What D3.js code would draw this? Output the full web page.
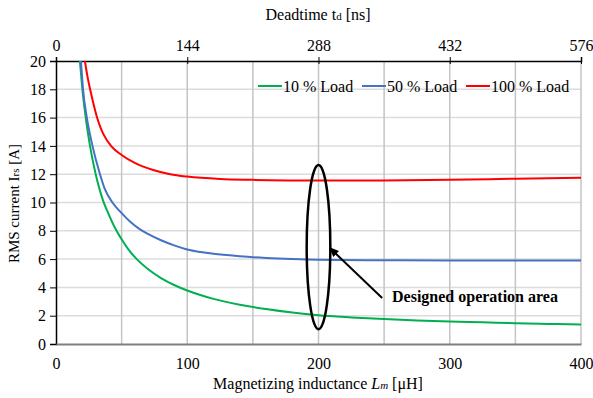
<!DOCTYPE html>
<html>
<head>
<meta charset="utf-8">
<script src="https://cdn.jsdelivr.net/npm/d3@7"></script>
<style>
  body { margin: 0; background: #fff; }
  svg text { font-family: "Liberation Serif", "Times New Roman", serif; fill: #000; }
</style>
</head>
<body>
<svg id="chart" width="593" height="398"></svg>
<script>
// magnetizing inductance Lm [uH] and rms current [A]
var lm10 = [18.2, 20, 22.5, 25.9, 30, 36, 40, 45, 50, 55, 61.5, 70, 80, 90, 100, 110, 120, 140, 160, 180, 200, 225, 250, 275, 300, 325, 350, 375, 400]
var i10 = [20, 18.1, 16.1, 14, 12.1, 10.1, 9.2, 8.2, 7.4, 6.7, 6.0, 5.3, 4.66, 4.17, 3.78, 3.46, 3.19, 2.78, 2.47, 2.22, 2.03, 1.88, 1.76, 1.66, 1.59, 1.53, 1.47, 1.42, 1.38]
var lm50 = [19, 20.6, 23.5, 27.8, 33.5, 37, 43, 50, 57, 64, 70, 80, 90, 100, 110, 120, 140, 160, 180, 200, 250, 300, 350, 400]
var i50 = [20, 18, 16, 14, 12, 11, 10, 9.25, 8.6, 8.1, 7.78, 7.33, 6.97, 6.68, 6.5, 6.37, 6.2, 6.08, 6.0, 5.95, 5.92, 5.9, 5.9, 5.9]
var lm100 = [22, 24, 26, 28.5, 31, 33.5, 36, 42.4, 50, 60, 74, 87, 100, 125, 150, 200, 250, 300, 350, 400]
var i100 = [20, 18.9, 18, 17, 16.1, 15.4, 14.85, 13.95, 13.36, 12.8, 12.3, 12.0, 11.83, 11.66, 11.6, 11.55, 11.56, 11.6, 11.68, 11.75]

var seriesNames = ['10 % Load', '50 % Load', '100 % Load']
var seriesColors = ['#00b050', '#4472c4', '#ff0000']
var xTicks = [0, 100, 200, 300, 400]
var xGrid = [50, 100, 150, 200, 250, 300, 350, 400]
var yTicks = [0, 2, 4, 6, 8, 10, 12, 14, 16, 18, 20]
var topTicks = [0, 144, 288, 432, 576]

var serif = '"Liberation Serif", "Times New Roman", serif'
var svg = d3.select('#chart')
var x = d3.scaleLinear().domain([0, 400]).range([56, 581])
var xTop = d3.scaleLinear().domain([0, 576]).range([56, 581])
var y = d3.scaleLinear().domain([0, 20]).range([344, 61])

// grid
svg.append('g').selectAll('line')
    .data(yTicks.filter(function(d) { return d > 0 && d < 20 }))
    .enter().append('line')
    .attr('x1', x(0)).attr('x2', x(400))
    .attr('y1', function(d) { return y(d) }).attr('y2', function(d) { return y(d) })
    .attr('stroke', '#dcdcdc').attr('stroke-width', 1.5)
svg.append('g').selectAll('line')
    .data(xGrid)
    .enter().append('line')
    .attr('y1', y(0)).attr('y2', y(20))
    .attr('x1', function(d) { return x(d) }).attr('x2', function(d) { return x(d) })
    .attr('stroke', '#c4c4c4').attr('stroke-width', 1.5)

// axes
var yAxis = svg.append('g').attr('transform', 'translate(' + x(0) + ',0)')
    .call(d3.axisLeft(y).tickValues(yTicks).tickSize(6).tickPadding(4))
yAxis.select('.domain').attr('stroke', '#000').attr('stroke-width', 1.5)

var topAxis = svg.append('g').attr('transform', 'translate(0,' + y(20) + ')')
    .call(d3.axisTop(xTop).tickValues(topTicks).tickSize(4).tickPadding(6))
topAxis.select('.domain').attr('stroke', '#000').attr('stroke-width', 1.5)
topAxis.selectAll('.tick line').attr('y2', 3).attr('y1', -4)

var botAxis = svg.append('g').attr('transform', 'translate(0,' + y(0) + ')')
    .call(d3.axisBottom(x).tickValues(xTicks).tickSize(0).tickPadding(14))
botAxis.select('.domain').attr('stroke', '#7f7f7f').attr('stroke-width', 2)

svg.selectAll('.tick text').attr('font-family', serif).attr('font-size', 16)
    .style('font-family', serif).style('font-size', '16px')

// curves
var series = [[lm10, i10], [lm50, i50], [lm100, i100]]
var line = d3.line()
    .x(function(d) { return x(d[0]) })
    .y(function(d) { return y(d[1]) })
    .curve(d3.curveMonotoneX)
svg.append('g').selectAll('path')
    .data(series)
    .enter().append('path')
    .attr('d', function(s) { return line(d3.zip(s[0], s[1])) })
    .attr('fill', 'none')
    .attr('stroke', function(d, i) { return seriesColors[i] })
    .attr('stroke-width', 2)

// legend
var legX = [258, 362, 466]
var leg = svg.append('g').selectAll('g')
    .data(seriesNames)
    .enter().append('g')
    .attr('transform', function(d, i) { return 'translate(' + legX[i] + ',86)' })
leg.append('line').attr('x1', 0).attr('x2', 24)
    .attr('stroke', function(d, i) { return seriesColors[i] }).attr('stroke-width', 2)
leg.append('text').attr('x', 25).attr('y', 5.5)
    .style('font-family', serif).style('font-size', '16px').text(function(d) { return d })

// annotation
svg.append('ellipse')
    .attr('cx', x(200)).attr('cy', y(6.85))
    .attr('rx', x(209) - x(200)).attr('ry', y(1.05) - y(6.85))
    .attr('fill', 'none').attr('stroke', '#000').attr('stroke-width', 2.5)
svg.append('defs').append('marker')
    .attr('id', 'arr').attr('markerWidth', 10).attr('markerHeight', 10)
    .attr('refX', 9).attr('refY', 4).attr('orient', 'auto').attr('markerUnits', 'userSpaceOnUse')
    .append('path').attr('d', 'M0,0 L10,4 L0,8 z').attr('fill', '#000')
svg.append('line')
    .attr('x1', x(248.5)).attr('y1', y(3.25))
    .attr('x2', x(208.5)).attr('y2', y(6.8))
    .attr('stroke', '#000').attr('stroke-width', 2)
    .attr('marker-end', 'url(#arr)')
svg.append('text').attr('x', x(256)).attr('y', 302)
    .style('font-family', serif).style('font-size', '16px').style('font-weight', 'bold')
    .text('Designed operation area')

// titles
var t1 = svg.append('text').attr('x', 318).attr('y', 20).attr('text-anchor', 'middle')
    .style('font-family', serif).style('font-size', '16px')
t1.append('tspan').text('Deadtime t')
t1.append('tspan').style('font-size', '11px').text('d')
t1.append('tspan').text(' [ns]')

var t2 = svg.append('text').attr('x', 318).attr('y', 389).attr('text-anchor', 'middle')
    .style('font-family', serif).style('font-size', '16px')
t2.append('tspan').text('Magnetizing inductance ')
t2.append('tspan').style('font-style', 'italic').text('L')
t2.append('tspan').style('font-style', 'italic').style('font-size', '11px').text('m')
t2.append('tspan').text(' [\u03bcH]')

var t3 = svg.append('text').attr('transform', 'translate(19,' + (y(10) + 1) + ') rotate(-90)')
    .attr('text-anchor', 'middle').style('font-family', serif).style('font-size', '15px')
t3.append('tspan').text('RMS current I')
t3.append('tspan').style('font-size', '11px').text('rs')
t3.append('tspan').text(' [A]')
</script>
</body>
</html>
